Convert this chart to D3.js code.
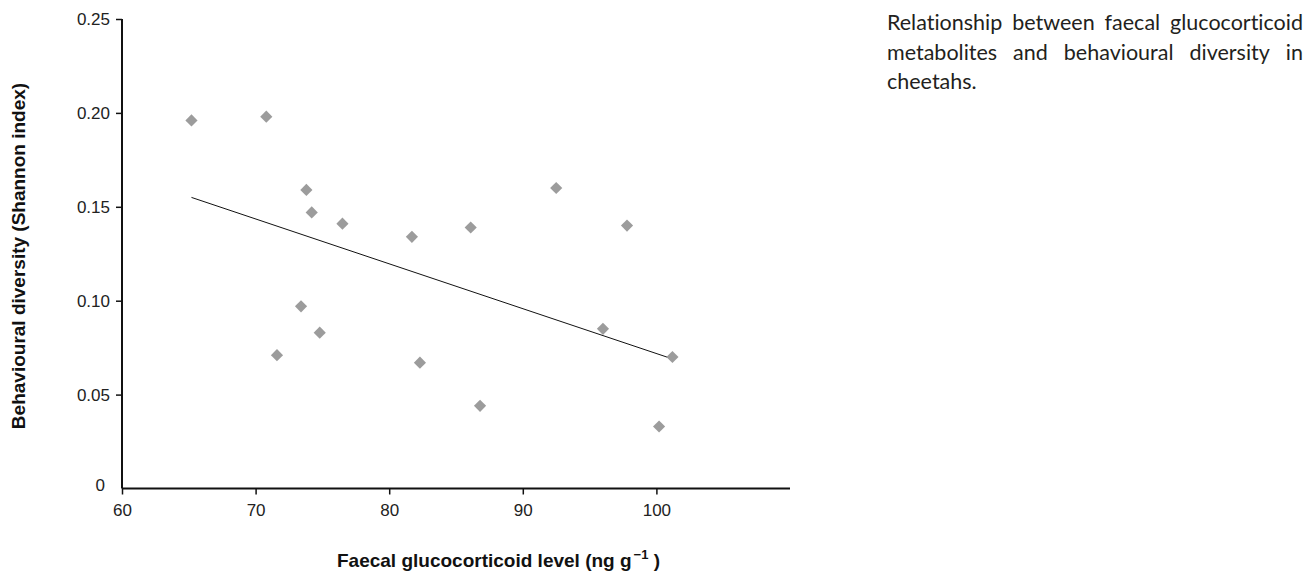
<!DOCTYPE html>
<html>
<head>
<meta charset="utf-8">
<script src="https://cdn.jsdelivr.net/npm/d3@7"></script>
<style>
  body { margin: 0; background: #fff; }
  svg { display: block; }
  .cap { font-variant-ligatures: none; }
</style>
</head>
<body>
<div id="container"></div>
<script>
	// values
	var glucoLevel = [65.2, 70.8, 71.6, 73.4, 73.8, 74.2, 74.8, 76.5, 81.7, 82.3, 86.1, 86.8, 92.5, 96.0, 97.8, 100.2, 101.2];
	var diversity = [0.196, 0.198, 0.071, 0.097, 0.159, 0.147, 0.083, 0.141, 0.134, 0.067, 0.139, 0.044, 0.160, 0.085, 0.140, 0.033, 0.070];
	var fitX = [65.2, 101.2];
	var fitY = [0.155, 0.069];
	var xTicks = [60, 70, 80, 90, 100];
	var yTicks = [0, 0.05, 0.10, 0.15, 0.20, 0.25];
	var captionLines = [
		"Relationship between faecal glucocorticoid",
		"metabolites and behavioural diversity in",
		"cheetahs."
	];

	var svg = d3.select('#container')
		.append('svg')
		.attr('width', 1315)
		.attr('height', 576);

	var x = d3.scaleLinear().domain([60, 110]).range([122, 790]);
	var y = d3.scaleLinear().domain([0, 0.25]).range([488.5, 19]);

	// y axis
	var yAxis = svg.append('g')
		.attr('transform', 'translate(122,0)')
		.call(d3.axisLeft(y)
			.tickValues(yTicks)
			.tickSize(6)
			.tickPadding(6)
			.tickFormat(function(d){ return d === 0 ? "0" : d3.format(".2f")(d); }));

	// x axis
	var xAxis = svg.append('g')
		.attr('transform', 'translate(0,488.5)')
		.call(d3.axisBottom(x)
			.tickValues(xTicks)
			.tickSize(6)
			.tickPadding(9)
			.tickFormat(d3.format("d")));

	[xAxis, yAxis].forEach(function(a){
		a.select('.domain').attr('stroke', '#111').attr('stroke-width', 2);
		a.selectAll('.tick line').attr('stroke', '#111').attr('stroke-width', 1.5);
		a.selectAll('.tick text')
			.attr('fill', '#222')
			.style('font-family', 'Liberation Sans, Arial, sans-serif')
			.style('font-size', '17px');
	});
	// plain axis lines, no end caps
	xAxis.select('.domain').attr('d', 'M122,0H790');
	yAxis.select('.domain').attr('d', 'M0,' + y(0) + 'V' + y(0.25));
	// "0" has no tick and sits a little lower
	yAxis.selectAll('.tick').filter(function(d){ return d === 0; })
		.select('line').remove();
	yAxis.selectAll('.tick').filter(function(d){ return d === 0; })
		.select('text').attr('x', -17).attr('dy', '0.1em');

	// regression line
	svg.append('line')
		.attr('x1', x(fitX[0])).attr('y1', y(fitY[0]))
		.attr('x2', x(fitX[1])).attr('y2', y(fitY[1]))
		.attr('stroke', '#111')
		.attr('stroke-width', 1);

	// points
	var diamond = d3.symbol().type(d3.symbolSquare).size(74);
	svg.selectAll('path.pt')
		.data(glucoLevel)
		.enter().append('path')
		.attr('class', 'pt')
		.attr('d', diamond)
		.attr('transform', function(d, i){ return 'translate(' + x(d) + ',' + y(diversity[i]) + ') rotate(45)'; })
		.attr('fill', '#9c9c9c');

	// axis titles
	svg.append('text')
		.attr('transform', 'translate(25,256) rotate(-90)')
		.attr('text-anchor', 'middle')
		.style('font-family', 'Liberation Sans, Arial, sans-serif')
		.style('font-size', '19px')
		.style('font-weight', 'bold')
		.attr('fill', '#111')
		.text('Behavioural diversity (Shannon index)');

	var xt = svg.append('text')
		.attr('x', 337)
		.attr('y', 567)
		.style('font-family', 'Liberation Sans, Arial, sans-serif')
		.style('font-size', '19px')
		.style('font-weight', 'bold')
		.attr('fill', '#111');
	xt.append('tspan').text('Faecal glucocorticoid level (ng g');
	xt.append('tspan').attr('dy', -8).attr('dx', 2).style('font-size', '13px').text('\u22121');
	xt.append('tspan').attr('dy', 8).text(' )');

	// caption, justified
	var capLeft = 887, capWidth = 416;
	captionLines.forEach(function(line, li){
		var words = line.split(' ');
		var g = svg.append('g').attr('class', 'cap');
		var nodes = words.map(function(w){
			return g.append('text')
				.attr('y', 30 + li * 29.5)
				.style('font-family', 'Lato, sans-serif')
				.style('font-size', '21.5px')
				.attr('fill', '#231f20')
				.text(w);
		});
		var widths = nodes.map(function(n){ return n.node().getComputedTextLength(); });
		var total = d3.sum(widths);
		var gap = (li < captionLines.length - 1 && words.length > 1) ? (capWidth - total) / (words.length - 1) : 5;
		var cx = capLeft;
		nodes.forEach(function(n, i){
			n.attr('x', cx);
			cx += widths[i] + gap;
		});
	});
</script>
</body>
</html>
